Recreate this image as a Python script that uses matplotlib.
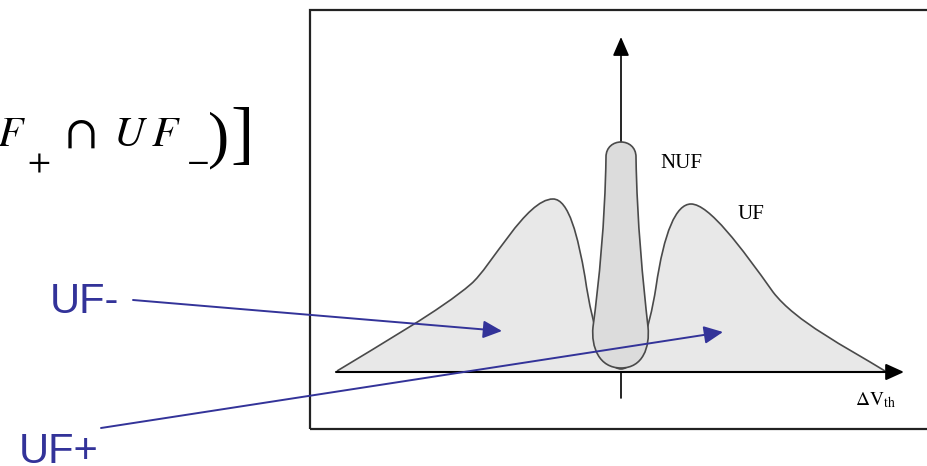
import numpy as np
import matplotlib.pyplot as plt
from matplotlib.path import Path
from matplotlib.patches import PathPatch, FancyArrowPatch, ArrowStyle, Rectangle

plt.rcParams['mathtext.fontset'] = 'stix'

# outline of the broad UF distribution (start point, then cubic bezier triples)
uf_start = (-284, 1)
uf_curve = [
    (-240, 28), (-180, 62), (-150, 88),
    (-130, 105), (-95, 173), (-68, 173),
    (-52, 173), (-43, 135), (-36, 95),
    (-28, 40), (-15, 3), (0, 3),
    (15, 3), (28, 40), (35, 85),
    (43, 140), (55, 168), (70, 168),
    (88, 168), (120, 125), (152, 80),
    (175, 50), (225, 25), (264, 1),
]

# outline of the narrow NUF peak
nuf_start = (-15, 215)
nuf_curve = [
    (-15, 235), (15, 235), (15, 215),
    (16, 150), (22, 90), (27, 45),
    (29, 25), (22, 4), (0, 4),
    (-22, 4), (-30, 25), (-28, 45),
    (-22, 90), (-16, 150), (-15, 215),
]

# label arrows: (tail, head)
uf_minus_arrow = ((-488, 72), (-119, 41))
uf_plus_arrow = ((-520, -56), (102, 40))

# pieces of the probability expression: (text, x, baseline y, size)
formula_parts = [
    (r'$F$', -624, 226, 30),
    (r'$+$', -594, 202, 24),
    (r'$\cap$', -556, 225, 36),
    (r'$U$', -508, 226, 31),
    (r'$F$', -470, 226, 31),
    (r'$-$', -435, 203, 24),
]

blue = '#333399'
edge = '#4a4a4a'


def bezier_path(start, pts, close_to_base=False):
    verts = [start] + list(pts)
    codes = [Path.MOVETO] + [Path.CURVE4] * len(pts)
    if close_to_base:
        verts += [(start[0], 0), start]
        codes += [Path.LINETO, Path.CLOSEPOLY]
    else:
        verts += [start]
        codes += [Path.CLOSEPOLY]
    return Path(verts, codes)


fig = plt.figure(figsize=(9.27, 4.66), dpi=100)
ax = fig.add_axes([0, 0, 1, 1])
ax.set_xlim(-621, 306)
ax.set_ylim(-94, 372)
ax.axis('off')

# frame (right side runs off the figure)
ax.add_patch(Rectangle((-311, -57), 700, 419, fill=False, ec='#222222', lw=1.6, zorder=1))

ax.add_patch(PathPatch(bezier_path(uf_start, uf_curve, True), fc='#e8e8e8', ec='none', zorder=2))
ax.add_patch(PathPatch(Path([uf_start] + uf_curve, [Path.MOVETO] + [Path.CURVE4] * len(uf_curve)),
                       fc='none', ec=edge, lw=1.2, zorder=3))
ax.add_patch(PathPatch(bezier_path(nuf_start, nuf_curve), fc='#dcdcdc', ec=edge, lw=1.2, zorder=4))

# axes of the sketch
ax.add_patch(FancyArrowPatch((-285, 0), (283, 0), arrowstyle=ArrowStyle('-|>', head_length=11, head_width=5),
                             mutation_scale=1, shrinkA=0, shrinkB=0, lw=1.5, color='black', zorder=5))
ax.add_patch(FancyArrowPatch((0, -26), (0, 335), arrowstyle=ArrowStyle('-|>', head_length=11.5, head_width=5),
                             mutation_scale=1, shrinkA=0, shrinkB=0, lw=1.2, color='black', zorder=1.5))

for tail, head in (uf_minus_arrow, uf_plus_arrow):
    ax.add_patch(FancyArrowPatch(tail, head, arrowstyle=ArrowStyle('-|>', head_length=11.5, head_width=5.4),
                                 mutation_scale=1, shrinkA=0, shrinkB=0, lw=1.4, color=blue, zorder=6))

ax.text(39, 204, 'NUF', family='Liberation Serif', fontsize=15, va='baseline', zorder=7)
ax.text(117, 153, 'UF', family='Liberation Serif', fontsize=15, va='baseline', zorder=7)
ax.text(234, -33, r'$\mathrm{\Delta V_{th}}$', fontsize=14, va='baseline', zorder=7)

ax.text(-571, 59, 'UF-', family='Liberation Sans', fontsize=30, color=blue, va='baseline')
ax.text(-602, -91, 'UF+', family='Liberation Sans', fontsize=30, color=blue, va='baseline')

for s, x, y, size in formula_parts:
    ax.text(x, y, s, fontsize=size, va='baseline')
ax.text(-413, 217, ')', family='Liberation Serif', fontsize=46, va='baseline')
ax.text(-391, 216, ']', family='Liberation Serif', fontsize=50, va='baseline')

fig.savefig('out.png', dpi=100)
